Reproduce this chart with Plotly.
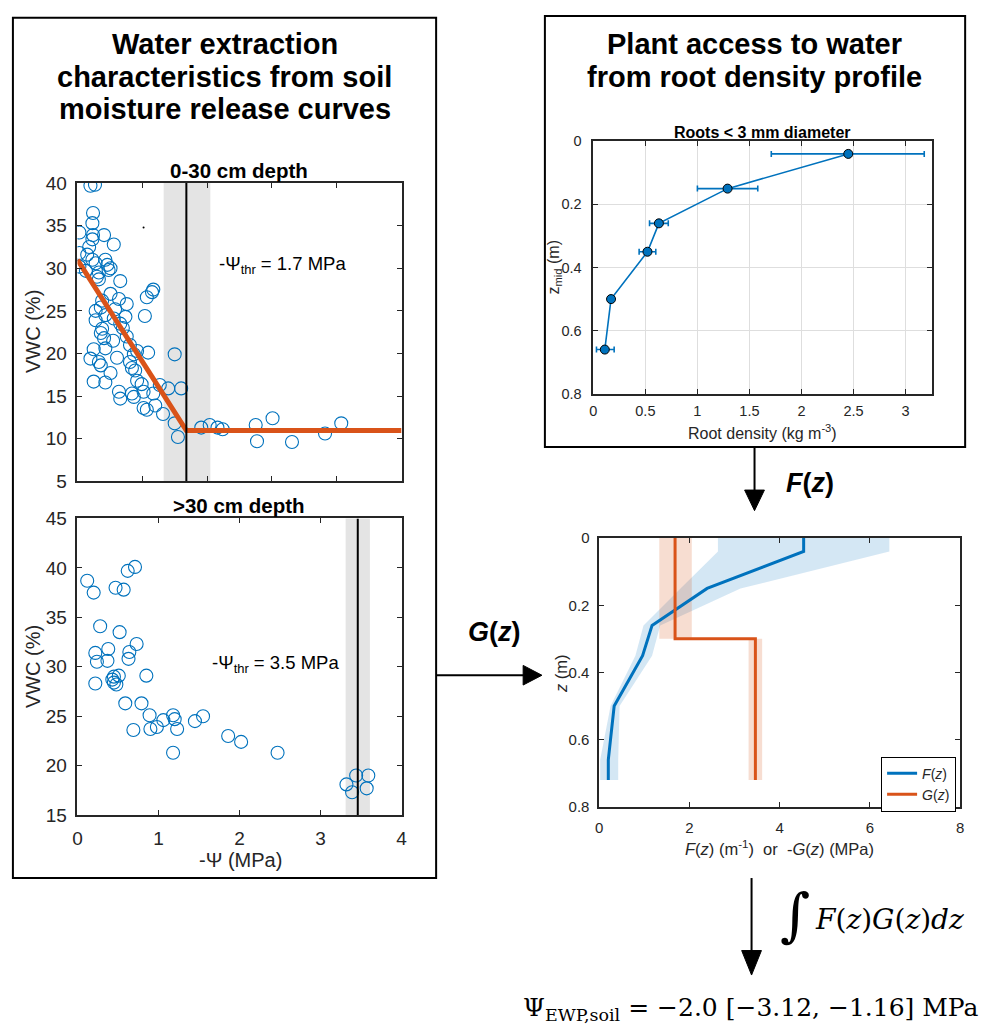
import plotly.graph_objects as go

W, H = 984, 1036
BLUE = '#0072BD'
ORANGE = '#D95319'
AX = '#262626'
SANS = 'Liberation Sans, Arial, sans-serif'
SERIF = 'DejaVu Serif, Liberation Serif, serif'

# ---------------- data: 0-30 cm depth ----------------
top_psi = [0.20, 0.27, 0.24, 0.23, 0.03, 0.24, 0.23, 0.41, 0.56, 0.18, 0.03, 0.15, 0.23, 0.43,
           0.03, 0.28, 0.46, 0.13, 0.33, 0.33, 0.51, 0.66, 0.51, 0.64, 1.07, 1.17, 1.15, 0.76,
           0.36, 0.28, 0.43, 0.56, 0.74, 1.04, 0.66, 0.28, 0.38, 0.36, 0.76, 0.41, 0.81, 0.43,
           0.25, 0.92, 1.09, 0.20, 0.61, 0.87, 0.33, 0.81, 0.36, 0.84, 0.89, 0.51, 0.25, 0.92,
           0.43, 0.99, 1.02, 1.17, 1.27, 1.40, 1.60, 0.64, 0.66, 0.84, 0.87, 1.02, 1.07, 1.20,
           1.32, 1.50, 1.55, 1.50, 1.91, 2.04, 2.16, 2.24, 2.75, 2.77, 3.01, 3.31, 3.82, 4.07,
           0.30, 0.48, 0.58, 0.70, 0.38, 0.55]
top_vwc = [39.7, 39.8, 36.5, 35.3, 34.2, 33.9, 33.4, 33.9, 32.8, 32.5, 31.8, 31.6, 31.0, 31.0,
           30.2, 30.6, 30.4, 29.7, 29.5, 28.7, 30.0, 28.5, 27.0, 26.4, 26.6, 27.5, 27.2, 25.8,
           25.4, 25.0, 24.5, 24.1, 24.3, 24.4, 23.5, 23.9, 22.9, 22.4, 22.0, 21.8, 21.0, 20.6,
           20.5, 20.3, 20.1, 19.4, 19.5, 19.9, 19.0, 19.0, 18.6, 18.3, 18.0, 17.7, 16.7, 16.8,
           16.6, 16.4, 15.5, 15.3, 16.3, 15.9, 15.9, 15.5, 14.7, 15.3, 14.9, 13.6, 13.4, 13.9,
           12.9, 11.8, 10.2, 19.9, 11.3, 11.6, 11.3, 11.1, 11.6, 9.7, 12.4, 9.6, 10.6, 11.8,
           29.0, 29.8, 25.2, 23.0, 26.2, 21.5]
top_fit_psi = [0.0, 1.68, 5.0]
top_fit_vwc = [31.0, 10.95, 10.95]
top_thr, top_thr_lo, top_thr_hi = 1.68, 1.33, 2.05
top_stray_psi, top_stray_vwc = [1.02], [34.8]

# ---------------- data: >30 cm depth ----------------
deep_psi = [0.12, 0.20, 0.47, 0.57, 0.62, 0.71, 0.28, 0.52, 0.73, 0.22, 0.38, 0.64, 0.24, 0.37,
            0.63, 0.45, 0.51, 0.43, 0.45, 0.48, 0.22, 0.85, 0.59, 0.79, 0.89, 1.06, 1.18, 1.20,
            0.90, 0.98, 0.69, 1.23, 1.18, 1.45, 1.55, 1.86, 2.02, 2.47, 3.32, 3.44, 3.39, 3.59,
            3.57]
deep_vwc = [38.7, 37.5, 38.0, 37.8, 39.7, 40.1, 34.1, 33.5, 32.3, 31.4, 31.8, 31.5, 30.5, 30.6,
            30.8, 29.0, 29.1, 28.7, 28.4, 28.2, 28.3, 29.1, 26.3, 26.3, 25.1, 24.6, 25.1, 24.7,
            23.7, 23.9, 23.6, 23.7, 21.3, 24.5, 25.0, 23.0, 22.4, 21.3, 18.1, 19.0, 17.3, 19.0,
            17.7]
deep_thr, deep_thr_lo, deep_thr_hi = 3.46, 3.31, 3.61

# ---------------- data: root density ----------------
root_density = [2.45, 1.29, 0.63, 0.52, 0.17, 0.11]
root_zmid = [0.04, 0.15, 0.26, 0.35, 0.50, 0.66]
root_err_lo = [0.74, 0.29, 0.09, 0.08, 0.02, 0.08]
root_err_hi = [0.73, 0.29, 0.09, 0.08, 0.02, 0.09]

# ---------------- data: F(z), G(z) ----------------
fz_depth = [0.0, 0.04, 0.15, 0.26, 0.35, 0.50, 0.66, 0.72]
fz_val = [4.53, 4.53, 2.39, 1.17, 0.96, 0.33, 0.20, 0.20]
fz_lo = [2.63, 2.63, 1.80, 0.98, 0.80, 0.25, 0.02, 0.02]
fz_hi = [6.43, 6.43, 3.13, 1.35, 1.17, 0.45, 0.42, 0.42]
gz_break = 0.30
gz_bottom = 0.72


def px(x):
    return x / W


def py(y):
    return 1 - y / H


fig = go.Figure()

# Panel 1: 0-30 cm
fig.add_trace(go.Scatter(x=top_psi, y=top_vwc, mode='markers', xaxis='x', yaxis='y',
                         marker=dict(symbol='circle-open', size=13, color=BLUE, line=dict(width=1.1)),
                         showlegend=False))
fig.add_trace(go.Scatter(x=top_stray_psi, y=top_stray_vwc, mode='markers', xaxis='x', yaxis='y',
                         marker=dict(size=2, color='black'), showlegend=False))
fig.add_trace(go.Scatter(x=top_fit_psi, y=top_fit_vwc, mode='lines', xaxis='x', yaxis='y',
                         line=dict(color=ORANGE, width=5), showlegend=False))
fig.add_trace(go.Scatter(x=[top_thr, top_thr], y=[5, 40], mode='lines', xaxis='x', yaxis='y',
                         line=dict(color='black', width=2), showlegend=False))

# Panel 2: >30 cm
fig.add_trace(go.Scatter(x=deep_psi, y=deep_vwc, mode='markers', xaxis='x2', yaxis='y2',
                         marker=dict(symbol='circle-open', size=13, color=BLUE, line=dict(width=1.1)),
                         showlegend=False))
fig.add_trace(go.Scatter(x=[deep_thr, deep_thr], y=[15, 45], mode='lines', xaxis='x2', yaxis='y2',
                         line=dict(color='black', width=2), showlegend=False))

# Panel 3: root density
fig.add_trace(go.Scatter(x=root_density, y=root_zmid, mode='lines+markers', xaxis='x3', yaxis='y3',
                         line=dict(color=BLUE, width=1.6),
                         marker=dict(size=9, color=BLUE, line=dict(color='black', width=1)),
                         error_x=dict(type='data', array=root_err_hi, arrayminus=root_err_lo,
                                      color=BLUE, thickness=1.6, width=3),
                         showlegend=False))

# Panel 4: F(z), G(z)
fig.add_trace(go.Scatter(x=fz_lo + fz_hi[::-1], y=fz_depth + fz_depth[::-1], mode='lines',
                         fill='toself', fillcolor='rgba(0,114,189,0.17)', line=dict(width=0),
                         xaxis='x4', yaxis='y4', showlegend=False, hoverinfo='skip'))
fig.add_trace(go.Scatter(x=[top_thr_lo, top_thr_hi, top_thr_hi, top_thr_lo],
                         y=[0, 0, gz_break, gz_break], mode='lines', fill='toself',
                         fillcolor='rgba(217,83,25,0.2)', line=dict(width=0),
                         xaxis='x4', yaxis='y4', showlegend=False, hoverinfo='skip'))
fig.add_trace(go.Scatter(x=[deep_thr_lo, deep_thr_hi, deep_thr_hi, deep_thr_lo],
                         y=[gz_break, gz_break, gz_bottom, gz_bottom], mode='lines', fill='toself',
                         fillcolor='rgba(217,83,25,0.2)', line=dict(width=0),
                         xaxis='x4', yaxis='y4', showlegend=False, hoverinfo='skip'))
fig.add_trace(go.Scatter(x=fz_val, y=fz_depth, mode='lines', xaxis='x4', yaxis='y4',
                         line=dict(color=BLUE, width=3), name='<i>F</i>(<i>z</i>)'))
fig.add_trace(go.Scatter(x=[top_thr, top_thr, deep_thr, deep_thr],
                         y=[0, gz_break, gz_break, gz_bottom], mode='lines', xaxis='x4', yaxis='y4',
                         line=dict(color=ORANGE, width=3), name='<i>G</i>(<i>z</i>)'))


def axis(domain, rng, dtick, labels=True, size=19, grid=False, standoff=5, anchor=None):
    d = dict(domain=domain, range=rng, dtick=dtick, tick0=0, showline=True, linecolor=AX,
             linewidth=1.6, mirror='ticks', ticks='inside', ticklen=5, tickwidth=1.4,
             tickcolor=AX, showticklabels=labels, zeroline=False, showgrid=grid,
             gridcolor='#dedede', gridwidth=1.2,
             tickfont=dict(family=SANS, size=size, color=AX), ticklabelstandoff=standoff)
    if anchor:
        d['anchor'] = anchor
    return d


fig.update_layout(
    width=W, height=H, margin=dict(l=0, r=0, t=0, b=0),
    paper_bgcolor='white', plot_bgcolor='white',
    xaxis=axis([px(73.3), px(401)], [0, 5], 1, labels=False, anchor='y'),
    yaxis=axis([py(481), py(176.7)], [5, 40], 5, anchor='x', standoff=5),
    xaxis2=axis([px(73.3), px(401)], [0, 4], 1, anchor='y2', standoff=5),
    yaxis2=axis([py(821.7), py(519)], [15, 45], 5, anchor='x2', standoff=5),
    xaxis3=axis([px(595), px(937)], [0, 3.25], 0.5, size=14.5, grid=True, anchor='y3', standoff=3),
    yaxis3=axis([py(391.7), py(134)], [0.8, 0], 0.2, size=14.5, grid=True, anchor='x3', standoff=7),
    xaxis4=axis([px(601), px(966)], [0, 8], 2, size=15, anchor='y4', standoff=6),
    yaxis4=axis([py(813.3), py(539)], [0.8, 0], 0.2, size=15, anchor='x4', standoff=5),
    legend=dict(x=px(886), y=py(762), xanchor='left', yanchor='top', bgcolor='white',
                bordercolor='black', borderwidth=1, font=dict(family=SANS, size=14, color=AX),
                itemwidth=30, tracegroupgap=0),
)

# background bands for threshold uncertainty
shapes = [
    dict(type='rect', xref='x', yref='y domain', x0=top_thr_lo, x1=top_thr_hi, y0=0, y1=1,
         fillcolor='#e4e4e4', line=dict(width=0), layer='below'),
    dict(type='rect', xref='x2', yref='y2 domain', x0=deep_thr_lo, x1=deep_thr_hi, y0=0, y1=1,
         fillcolor='#e4e4e4', line=dict(width=0), layer='below'),
]
# frames
shapes += [
    dict(type='rect', xref='paper', yref='paper', x0=px(8), x1=px(436), y0=py(8), y1=py(886),
         line=dict(color='black', width=2)),
    dict(type='rect', xref='paper', yref='paper', x0=px(546), x1=px(971), y0=py(6), y1=py(446),
         line=dict(color='black', width=2)),
]


def arrow(x0, y0, x1, y1):
    return [dict(type='line', xref='paper', yref='paper', x0=px(x0), y0=py(y0),
                 x1=px(x1), y1=py(y1), line=dict(color='black', width=2))]


def tri(points):
    path = 'M ' + ' L '.join(f'{px(a):.5f},{py(b):.5f}' for a, b in points) + ' Z'
    return dict(type='path', xref='paper', yref='paper', path=path, fillcolor='black',
                line=dict(color='black', width=1))


shapes += arrow(758, 446, 758, 492) + [tri([(748, 490), (768, 490), (758, 511)])]
shapes += arrow(436, 679, 526, 679) + [tri([(524, 669), (524, 689), (543, 679)])]
shapes += arrow(755, 886, 755, 962) + [tri([(745, 960), (765, 960), (755, 985)])]
fig.update_layout(shapes=shapes)


def ann(text, x, y, size, family=SANS, color=AX, angle=0, xanchor='center', yanchor='middle'):
    return dict(text=text, x=px(x), y=py(y), xref='paper', yref='paper', showarrow=False,
                font=dict(family=family, size=size, color=color), textangle=angle,
                xanchor=xanchor, yanchor=yanchor)


anns = [
    ann('<b>Water extraction</b>', 222, 35, 29, color='black'),
    ann('<b>characteristics from soil</b>', 222, 68, 29, color='black'),
    ann('<b>moisture release curves</b>', 222, 101, 29, color='black'),
    ann('<b>Plant access to water</b>', 758, 35, 29, color='black'),
    ann('<b>from root density profile</b>', 758, 68, 29, color='black'),
    ann('<b>0-30 cm depth</b>', 237, 164, 20.5, color='black'),
    ann('<b>>30 cm depth</b>', 237, 506, 20.5, color='black'),
    ann('<b>Roots < 3 mm diameter</b>', 766, 125, 16, color='black'),
    ann('VWC (%)', 29, 328, 20, angle=-90),
    ann('VWC (%)', 29, 670, 20, angle=-90),
    ann('-Ψ (MPa)', 238, 868, 20),
    ann('-Ψ<sub>thr</sub> = 1.7 MPa', 214, 260, 18.5, color='black', xanchor='left'),
    ann('-Ψ<sub>thr</sub> = 3.5 MPa', 207, 668, 18.5, color='black', xanchor='left'),
    ann('z<sub>mid</sub> (m)', 556, 263, 16, angle=-90),
    ann('Root density (kg m<sup>-3</sup>)', 766, 431, 16),
    ann('<i>z</i> (m)', 563, 677, 16.5, angle=-90),
    ann('<i>F</i>(<i>z</i>) (m<sup>-1</sup>)  or  -<i>G</i>(<i>z</i>) (MPa)', 783, 855, 16.5),
    ann('<b><i>G</i>(<i>z</i>)</b>', 495, 635, 27, color='black'),
    ann('<b><i>F</i>(<i>z</i>)</b>', 814, 483, 27, color='black'),
    ann('∫', 799, 924, 58, family=SERIF, color='black'),
    ann('<i>F</i>(<i>z</i>)<i>G</i>(<i>z</i>)<i>dz</i>', 895, 928, 28, family=SERIF, color='black'),
    ann('Ψ<sub>EWP,soil</sub> = −2.0 [−3.12, −1.16] MPa', 987, 1020, 25, family=SERIF,
        color='black', xanchor='right'),
]
fig.update_layout(annotations=anns)

fig.write_html('out.html')
